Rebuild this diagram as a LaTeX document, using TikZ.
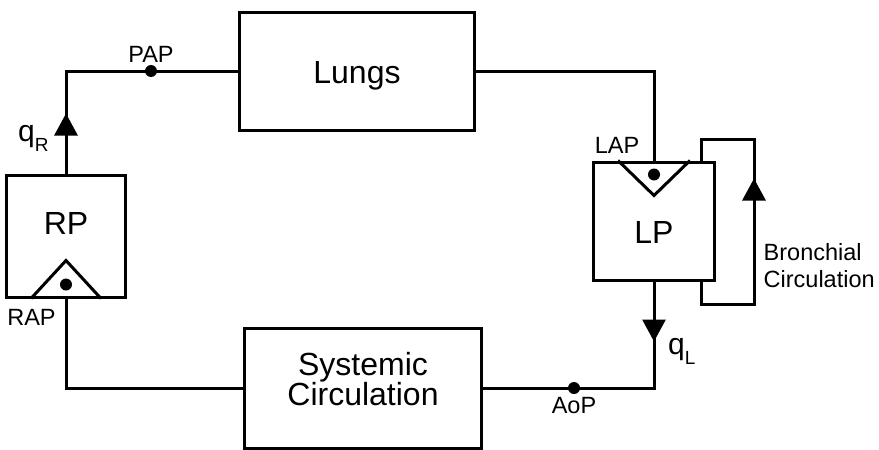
\documentclass[tikz,border=0pt]{standalone}
\usepackage{fontspec}
\setmainfont{Liberation Sans}
\usetikzlibrary{calc,positioning,arrows.meta,decorations.markings}
\newcommand\flowq[1]{q\raisebox{-10pt}{\fontsize{19}{19}\selectfont #1}}
\tikzset{
thickline/.style={line width=3pt},
flowmark/.style={
	decoration={
		markings,
		mark=at position {#1} with {
			\arrow{Triangle[width=23pt,length=22pt]}
		}
	}, thickline,
	postaction={decorate}
},
compartment/.style={draw,thickline,font=\fontsize{32}{30}\selectfont,inner sep=0pt},
junction/.style={circle,fill,inner sep=0pt,minimum size=12pt},
tag/.style={font=\fontsize{23.5}{27}\selectfont,inner sep=0pt},
}
\begin{document}
\begin{tikzpicture}[x=1pt,y=-1pt]
\useasboundingbox (0,0) rectangle (879,450);
%Place the compartments
\node[compartment, minimum width=235pt, minimum height=118pt, text height=24pt, text depth=0pt] (lungs) at (357,71) {Lungs};
\node[compartment, minimum width=119pt, minimum height=122pt, text depth=26pt] (rp) at (66,236) {RP};
\node[compartment, minimum width=121pt, minimum height=118pt, text height=44pt, text depth=0pt] (lp) at (654,221) {LP};
\node[compartment, minimum width=237pt, minimum height=120pt, align=center, text depth=18pt] (sys) at (363,388) {Systemic\\Circulation};

%pressure points
\node[junction] (pap) at (151,71) {};
\node[junction] (aop) at (574,388) {};

%valves
\draw[thickline] ($(rp.south)+(-35,0)$) -- ++(35,-38) -- ++(35,38);
\node[junction] (rvalve) at ($(rp.south)+(0,-14)$) {};
\draw[thickline] ($(lp.north)+(-36,0)$) -- ++(36,35) -- ++(36,-35);
\node[junction] (lvalve) at ($(lp.north)+(0,14)$) {};

%connectors
\draw[flowmark=60pt] (rp.north) |- (pap.center) -- (lungs.west);
\draw[thickline] (lungs.east) -| (lp.north);
\draw[flowmark=60pt] (lp.south) |- (aop.center) -- (sys.east);
\draw[thickline] (sys.west) -| (rp.south);

%bronchial loop
\coordinate (bout) at ($(lp.south east)+(-15,0)$);
\coordinate (bin) at ($(lp.north east)+(-15,0)$);
\draw[flowmark=202pt] (bout) -- ++(0,23) -- ++(53,0) -- ++(0,-165) -| (bin);

%labels
\node[tag, anchor=base] at ($(pap)+(0,-9)$) {PAP};
\node[tag, anchor=base] at ($(aop)+(0,25)$) {AoP};
\node[tag, anchor=base] at ($(rp.south west)+(26.5,27)$) {RAP};
\node[tag, anchor=base] at ($(lp.north)+(-37,-7)$) {LAP};
\node[font=\fontsize{30}{30}\selectfont, inner sep=0pt, anchor=base west] at ($(rp.north)+(-48,-32)$) {\flowq{R}};
\node[font=\fontsize{30}{30}\selectfont, inner sep=0pt, anchor=base west] at ($(lp.south)+(14,73)$) {\flowq{L}};
\node[tag, align=left, anchor=north west] at ($(lp.east)+(47.5,22)$) {Bronchial\\Circulation};
\end{tikzpicture}
\end{document}
